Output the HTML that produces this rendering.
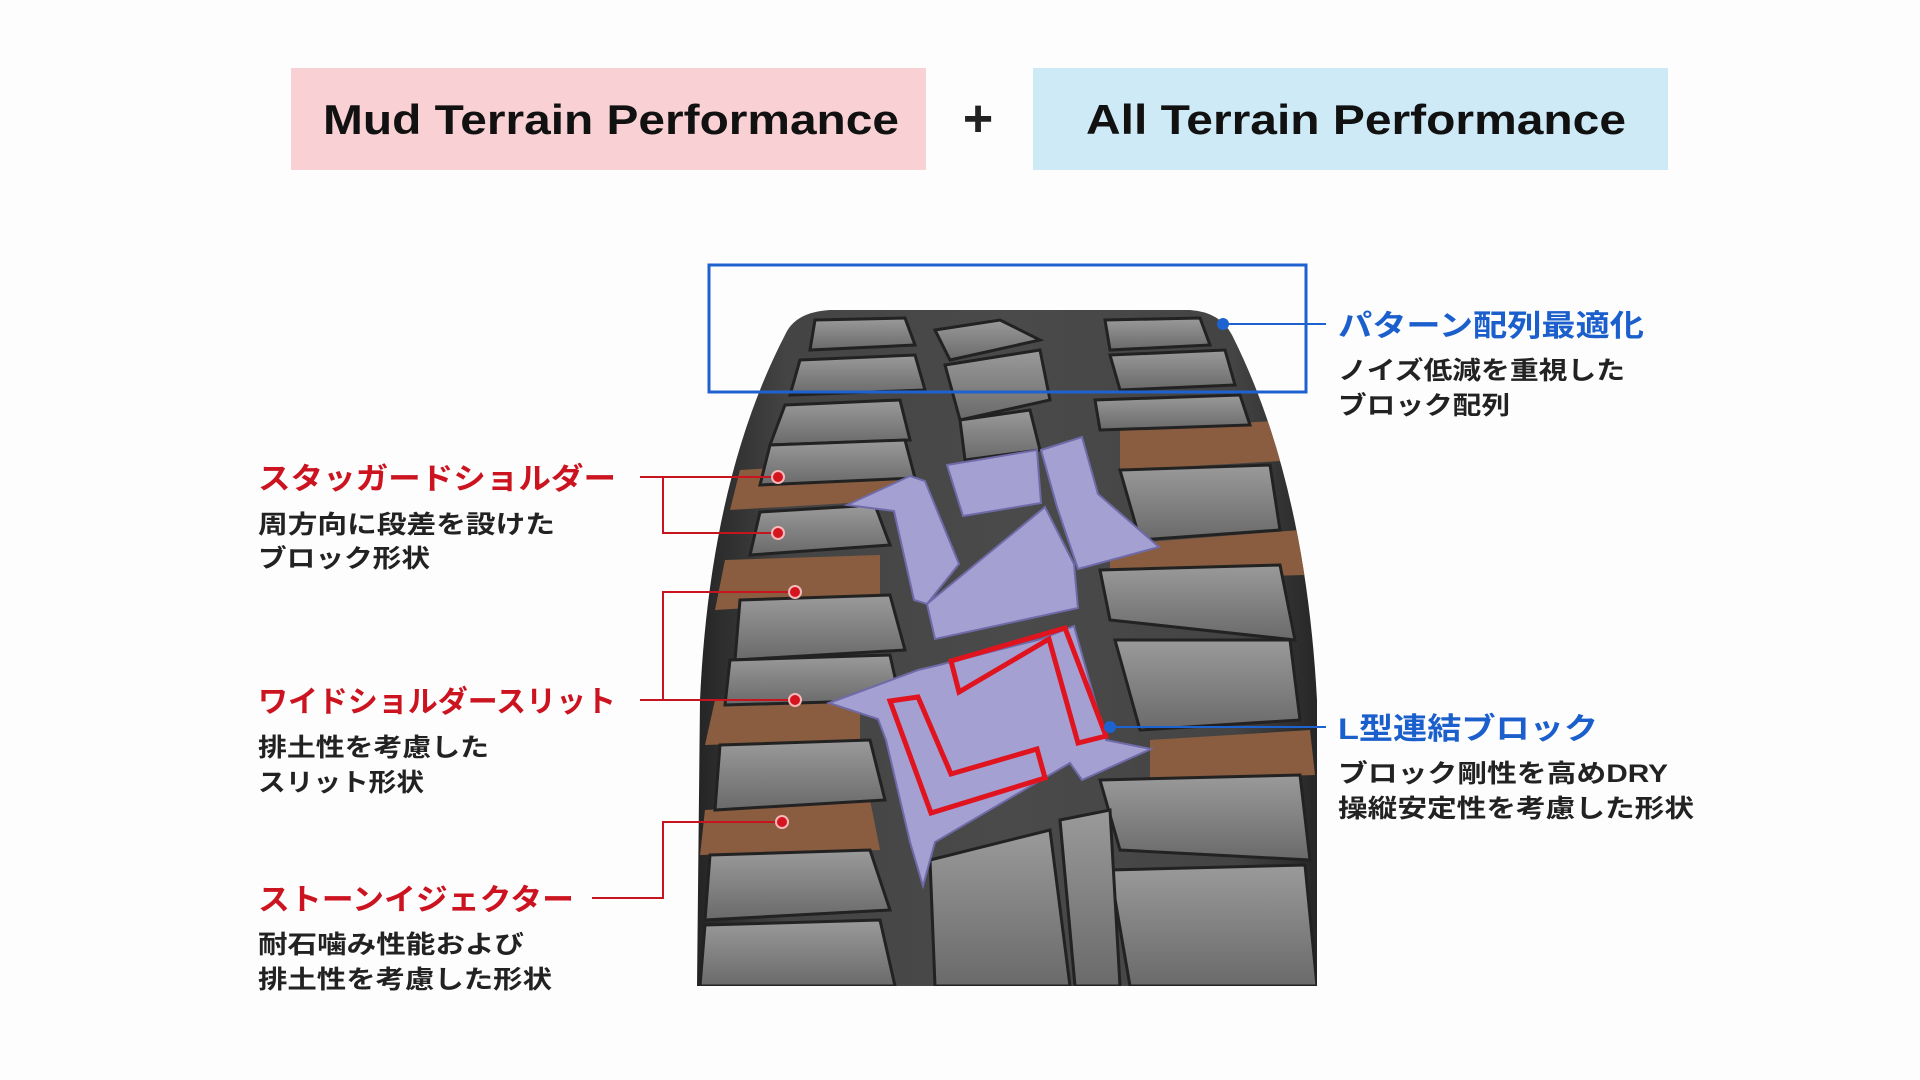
<!DOCTYPE html>
<html><head><meta charset="utf-8"><style>
html,body{margin:0;padding:0;background:#fff;width:1920px;height:1080px;overflow:hidden}
svg{display:block}
.jp{font-family:"Liberation Sans","Noto Sans CJK JP",sans-serif;font-weight:bold}
</style></head><body>
<svg width="1920" height="1080" viewBox="0 0 1920 1080" xmlns="http://www.w3.org/2000/svg">
<rect width="1920" height="1080" fill="#fdfdfd"/>
<rect x="291" y="68" width="635" height="102" fill="#f9d0d4"/>
<rect x="1033" y="68" width="635" height="102" fill="#cdeaf6"/>
<text x="323" y="134" font-family="Liberation Sans,sans-serif" font-weight="bold" font-size="42" fill="#111" textLength="576" lengthAdjust="spacingAndGlyphs">Mud Terrain Performance</text>
<text x="1086" y="134" font-family="Liberation Sans,sans-serif" font-weight="bold" font-size="42" fill="#111" textLength="540" lengthAdjust="spacingAndGlyphs">All Terrain Performance</text>
<text x="978" y="136" text-anchor="middle" font-family="Liberation Sans,sans-serif" font-weight="bold" font-size="52" fill="#222">+</text>

<defs>
<linearGradient id="tg" x1="0" x2="1" y1="0" y2="0">
<stop offset="0" stop-color="#222"/><stop offset="0.15" stop-color="#444"/><stop offset="0.5" stop-color="#4a4a4a"/><stop offset="0.85" stop-color="#444"/><stop offset="1" stop-color="#222"/>
</linearGradient>
<linearGradient id="bg" x1="0" x2="0" y1="0" y2="1">
<stop offset="0" stop-color="#9a9a9a"/><stop offset="1" stop-color="#6a6a6a"/>
</linearGradient>
<clipPath id="tc"><path d="M697,986 L700,700 Q710,480 785,335 Q795,312 830,310 L1190,310 Q1220,312 1232,335 Q1305,480 1317,700 L1317,986 Z"/></clipPath>
</defs>
<g clip-path="url(#tc)">
<rect x="690" y="300" width="640" height="690" fill="url(#tg)"/>
<g fill="#8a5d40">
<path d="M740,470 L900,460 L900,500 L730,510 Z"/>
<path d="M725,560 L880,555 L880,600 L715,610 Z"/>
<path d="M715,700 L860,700 L860,740 L705,745 Z"/>
<path d="M705,810 L870,800 L880,850 L700,855 Z"/>
<path d="M1120,430 L1290,420 L1300,460 L1120,470 Z"/>
<path d="M1110,545 L1300,530 L1305,575 L1110,580 Z"/>
<path d="M1150,740 L1310,730 L1315,775 L1150,780 Z"/>
</g>
<g fill="url(#bg)" stroke="#222" stroke-width="3">
<path d="M815,320 L905,318 L915,345 L810,350 Z"/>
<path d="M800,360 L915,355 L925,390 L790,395 Z"/>
<path d="M785,405 L900,400 L910,440 L770,445 Z"/>
<path d="M770,445 L905,440 L915,478 L760,485 Z"/>
<path d="M760,512 L875,505 L890,545 L750,555 Z"/>
<path d="M740,600 L890,595 L905,650 L735,660 Z"/>
<path d="M730,660 L890,655 L900,700 L725,705 Z"/>
<path d="M720,745 L870,740 L885,800 L715,810 Z"/>
<path d="M710,855 L870,850 L890,910 L705,920 Z"/>
<path d="M705,925 L880,920 L895,986 L700,986 Z"/>
<path d="M1105,320 L1200,318 L1210,345 L1110,350 Z"/>
<path d="M1110,355 L1225,350 L1235,385 L1120,390 Z"/>
<path d="M1095,400 L1240,395 L1250,425 L1100,430 Z"/>
<path d="M1120,470 L1270,465 L1280,530 L1140,540 Z"/>
<path d="M1100,570 L1280,565 L1295,640 L1110,620 Z"/>
<path d="M1115,640 L1290,640 L1300,720 L1140,730 Z"/>
<path d="M1100,780 L1300,775 L1310,860 L1120,850 Z"/>
<path d="M1110,870 L1305,865 L1317,986 L1130,986 Z"/>
<path d="M935,330 L1000,320 L1040,340 L950,360 Z"/>
<path d="M945,365 L1040,350 L1050,400 L960,420 Z"/>
<path d="M960,420 L1030,410 L1040,450 L965,460 Z"/>
<path d="M930,860 L1050,830 L1070,986 L935,986 Z"/>
<path d="M1060,820 L1110,810 L1120,986 L1075,986 Z"/>
</g>
<g fill="#a4a0d2" stroke="#6f6aa8" stroke-width="2">
<path d="M847,505 L910,476 L925,481 L959,564 L927,604 L914,600 L894,511 Z"/>
<path d="M947,465 L1037,450 L1041,503 L963,516 Z"/>
<path d="M1041,450 L1082,437 L1098,494 L1159,547 L1078,569 L1057,507 Z"/>
<path d="M927,604 L1045,507 L1074,564 L1078,608 L935,639 Z"/>
<path d="M829,703 L918,670 L935,666 L1041,639 L1074,626 L1106,740 L1151,749 L1082,780 L1070,763 L935,842 L923,886 L910,842 L886,740 L878,719 Z"/>
</g>
<g fill="none" stroke="#e0141e" stroke-width="5" stroke-linejoin="miter">
<path d="M890,701 L918,697 L951,774 L1037,749 L1045,778 L931,813 Z"/>
<path d="M951,661 L1065,628 L1106,736 L1078,743 L1049,639 L959,692 Z"/>
</g>
</g>

<rect x="709" y="265" width="597" height="127" fill="none" stroke="#1e62d0" stroke-width="3"/>
<circle cx="1223" cy="324" r="6" fill="#1e62d0"/>
<line x1="1223" y1="324" x2="1326" y2="324" stroke="#1e62d0" stroke-width="2"/>
<text class="jp" x="1338" y="336" font-size="30" fill="#1a5fcc" textLength="306" lengthAdjust="spacingAndGlyphs">パターン配列最適化</text>
<text class="jp" x="1338" y="379" font-size="25" fill="#222" textLength="287" lengthAdjust="spacingAndGlyphs">ノイズ低減を重視した</text>
<text class="jp" x="1338" y="414" font-size="25" fill="#222" textLength="172" lengthAdjust="spacingAndGlyphs">ブロック配列</text>

<circle cx="1110" cy="727" r="6" fill="#1e62d0"/>
<line x1="1110" y1="727" x2="1326" y2="727" stroke="#1e62d0" stroke-width="2"/>
<text class="jp" x="1338" y="739" font-size="30" fill="#1a5fcc" textLength="260" lengthAdjust="spacingAndGlyphs">L型連結ブロック</text>
<text class="jp" x="1338" y="782" font-size="25" fill="#222" textLength="330" lengthAdjust="spacingAndGlyphs">ブロック剛性を高めDRY</text>
<text class="jp" x="1338" y="817" font-size="25" fill="#222" textLength="356" lengthAdjust="spacingAndGlyphs">操縦安定性を考慮した形状</text>

<g stroke="#c8141e" stroke-width="2" fill="none">
<path d="M640,477 L778,477 M663,477 L663,533 L778,533"/>
<path d="M640,700 L795,700 M663,700 L663,592 L795,592"/>
<path d="M592,898 L663,898 L663,822 L782,822"/>
</g>
<g fill="#d4141e" stroke="#f6b8b8" stroke-width="2">
<circle cx="778" cy="477" r="6"/><circle cx="778" cy="533" r="6"/>
<circle cx="795" cy="592" r="6"/><circle cx="795" cy="700" r="6"/>
<circle cx="782" cy="822" r="6"/>
</g>
<text class="jp" x="258" y="489" font-size="30" fill="#cc1420" textLength="358" lengthAdjust="spacingAndGlyphs">スタッガードショルダー</text>
<text class="jp" x="258" y="533" font-size="25" fill="#222" textLength="297" lengthAdjust="spacingAndGlyphs">周方向に段差を設けた</text>
<text class="jp" x="258" y="567" font-size="25" fill="#222" textLength="172" lengthAdjust="spacingAndGlyphs">ブロック形状</text>
<text class="jp" x="258" y="712" font-size="30" fill="#cc1420" textLength="358" lengthAdjust="spacingAndGlyphs">ワイドショルダースリット</text>
<text class="jp" x="258" y="756" font-size="25" fill="#222" textLength="231" lengthAdjust="spacingAndGlyphs">排土性を考慮した</text>
<text class="jp" x="258" y="791" font-size="25" fill="#222" textLength="166" lengthAdjust="spacingAndGlyphs">スリット形状</text>
<text class="jp" x="258" y="910" font-size="30" fill="#cc1420" textLength="316" lengthAdjust="spacingAndGlyphs">ストーンイジェクター</text>
<text class="jp" x="258" y="953" font-size="25" fill="#222" textLength="266" lengthAdjust="spacingAndGlyphs">耐石噛み性能および</text>
<text class="jp" x="258" y="988" font-size="25" fill="#222" textLength="294" lengthAdjust="spacingAndGlyphs">排土性を考慮した形状</text>
</svg>
</body></html>
